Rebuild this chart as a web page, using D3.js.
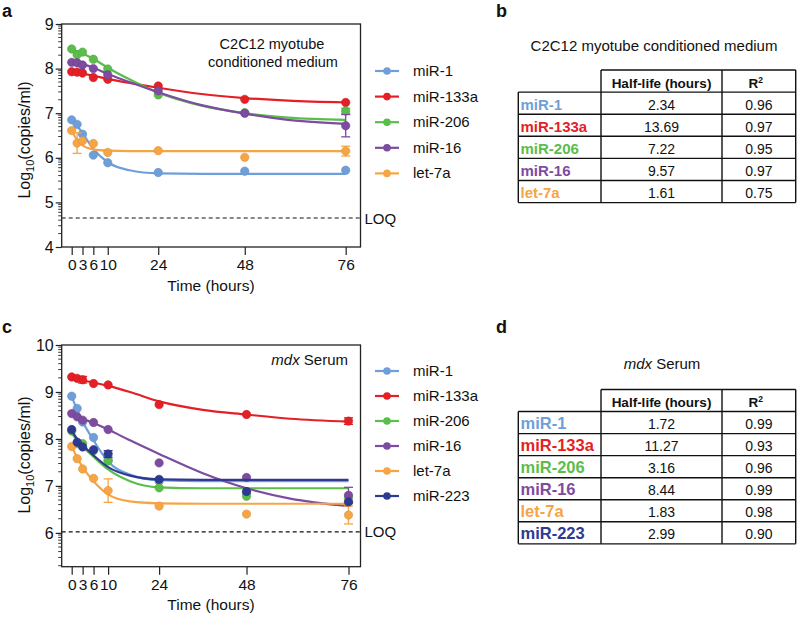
<!DOCTYPE html>
<html><head><meta charset="utf-8">
<script src="https://cdn.jsdelivr.net/npm/d3@7"></script>
<style>body{margin:0;background:#fff} text{font-family:"Liberation Sans",Arial,sans-serif;fill:#111}</style>
</head><body><svg id="c" width="800" height="617"></svg>
<script>
// ---------- shared ----------
const times = [0, 1.5, 3, 6, 10, 24, 48, 76];
const fitTimes = [0, 1.5, 3, 6, 10, 16, 24, 36, 48, 60, 76];
const xTickValues = [0, 3, 6, 10, 24, 48, 76];
const colors = {"miR-1":"#6f9fd8","miR-133a":"#e41f26","miR-206":"#5bbd4a","miR-16":"#7d4b9f","let-7a":"#f6a545","miR-223":"#2e3a92"};

// ---------- panel a: C2C12 myotube conditioned medium ----------
const seriesA = ["miR-1","miR-133a","miR-206","miR-16","let-7a"];
const aMir1    = [6.85, 6.75, 6.53, 6.06, 5.89, 5.67, 5.70, 5.72];
const aMir133a = [7.93, 7.92, 7.90, 7.80, 7.76, 7.61, 7.31, 7.24];
const aMir206  = [8.44, 8.31, 8.37, 8.21, 7.99, 7.41, 7.01, 7.05];
const aMir16   = [8.14, 8.13, 8.08, 8.00, 7.86, 7.50, 7.00, 6.72];
const aLet7a   = [6.61, 6.33, 6.38, 6.32, 6.12, 6.16, 6.01, 6.15];
const aErrMir1    = [null,null,null,null,null,null,null,null];
const aErrMir133a = [null,null,null,null,null,null,null,null];
const aErrMir206  = [null,null,null,null,null,null,null,0.06];
const aErrMir16   = [null,null,null,null,null,null,null,0.25];
const aErrLet7a   = [null,0.23,null,null,null,null,null,0.11];
const aFitMir1    = [6.85, 6.72, 6.55, 6.20, 5.90, 5.72, 5.65, 5.64, 5.64, 5.64, 5.64];
const aFitMir133a = [7.93, 7.91, 7.89, 7.84, 7.77, 7.68, 7.57, 7.43, 7.34, 7.28, 7.24];
const aFitMir206  = [8.42, 8.39, 8.34, 8.22, 8.02, 7.76, 7.46, 7.17, 7.00, 6.90, 6.85];
const aFitMir16   = [8.15, 8.13, 8.10, 8.02, 7.88, 7.70, 7.47, 7.18, 6.99, 6.85, 6.76];
const aFitLet7a   = [6.62, 6.40, 6.28, 6.19, 6.16, 6.15, 6.15, 6.15, 6.15, 6.15, 6.15];
const aLOQ = 4.65;
const aYTicks = [4, 5, 6, 7, 8, 9];

// ---------- panel c: mdx serum ----------
const seriesC = ["miR-1","miR-133a","miR-206","miR-16","let-7a","miR-223"];
const cMir1    = [8.91, 8.65, 8.36, 8.03, 7.55, 7.10, 6.85, 6.65];
const cMir133a = [9.32, 9.29, 9.26, 9.18, 9.15, 8.73, 8.52, 8.38];
const cMir206  = [8.17, 7.90, 7.90, 7.75, 7.53, 6.96, 6.78, 6.75];
const cMir16   = [8.54, 8.47, 8.40, 8.35, 8.20, 7.49, 7.18, 6.80];
const cLet7a   = [7.84, 7.58, 7.36, 7.16, 6.90, 6.57, 6.40, 6.38];
const cMir223  = [8.20, 7.93, 7.83, 7.77, 7.68, 7.14, 6.88, 6.66];
const cErrMir1    = [null,null,null,null,null,null,null,null];
const cErrMir133a = [null,null,0.07,null,null,null,null,0.07];
const cErrMir206  = [null,null,null,null,null,null,null,null];
const cErrMir16   = [null,null,null,null,null,null,null,0.17];
const cErrLet7a   = [null,null,null,null,0.25,null,null,0.19];
const cErrMir223  = [null,null,null,null,0.07,null,null,null];
const cFitMir1    = [8.90, 8.62, 8.37, 7.97, 7.52, 7.24, 7.12, 7.10, 7.10, 7.10, 7.10];
const cFitMir133a = [9.30, 9.28, 9.25, 9.20, 9.13, 9.00, 8.80, 8.62, 8.52, 8.43, 8.37];
const cFitMir206  = [8.12, 7.97, 7.84, 7.62, 7.35, 7.10, 6.97, 6.95, 6.95, 6.95, 6.95];
const cFitMir16   = [8.52, 8.48, 8.43, 8.34, 8.20, 7.97, 7.68, 7.27, 6.95, 6.73, 6.57];
const cFitLet7a   = [7.84, 7.60, 7.40, 7.10, 6.82, 6.67, 6.63, 6.62, 6.62, 6.62, 6.62];
const cFitMir223  = [8.17, 8.00, 7.87, 7.65, 7.40, 7.22, 7.14, 7.13, 7.13, 7.13, 7.13];
const cLOQ = 6.02;
const cYTicks = [6, 7, 8, 9, 10];

// ---------- tables ----------
const tableBTitle = "C2C12 myotube conditioned medium";
const tableBNames = ["miR-1","miR-133a","miR-206","miR-16","let-7a"];
const tableBHalfLife = ["2.34","13.69","7.22","9.57","1.61"];
const tableBR2 = ["0.96","0.97","0.95","0.97","0.75"];
const tableDNames = ["miR-1","miR-133a","miR-206","miR-16","let-7a","miR-223"];
const tableDHalfLife = ["1.72","11.27","3.16","8.44","1.83","2.99"];
const tableDR2 = ["0.99","0.93","0.96","0.99","0.98","0.90"];

const svg = d3.select("#c");

function panel(cfg) {
  const x = d3.scaleLinear().domain(cfg.xDomain).range([cfg.left, cfg.right]);
  const y = d3.scaleLinear().domain(cfg.yDomain).range([cfg.bottom, cfg.top]);
  const g = svg.append("g");
  const minors = [];
  for (let n = Math.floor(cfg.yDomain[0]); n < cfg.yDomain[1]; n++) {
    for (let k = 2; k <= 9; k++) {
      const v = n + Math.log10(k);
      if (v > cfg.yDomain[0] && v < cfg.yDomain[1]) minors.push(v);
    }
  }
  g.selectAll("line.minor").data(minors).join("line")
    .attr("x1", cfg.left - 3.5).attr("x2", cfg.left)
    .attr("y1", d => y(d)).attr("y2", d => y(d))
    .attr("stroke", "#222").attr("stroke-width", 0.9);
  const ya = g.append("g").attr("transform", `translate(${cfg.left},0)`)
    .call(d3.axisLeft(y).tickValues(cfg.yTicks).tickSize(6).tickPadding(2).tickFormat(d3.format("d")));
  ya.select(".domain").remove();
  ya.selectAll("line").attr("stroke", "#222").attr("stroke-width", 1.2);
  ya.selectAll("text").attr("font-size", 16).attr("font-family", "Liberation Sans, Arial, sans-serif").attr("fill", "#111");
  const xa = g.append("g").attr("transform", `translate(0,${cfg.bottom})`)
    .call(d3.axisBottom(x).tickValues(xTickValues).tickSize(8).tickPadding(4).tickFormat(d3.format("d")));
  xa.select(".domain").remove();
  xa.selectAll("line").attr("stroke", "#222").attr("stroke-width", 1.2);
  xa.selectAll("text").attr("font-size", 15.5).attr("font-family", "Liberation Sans, Arial, sans-serif").attr("fill", "#111");
  g.append("rect").attr("x", cfg.left).attr("y", cfg.top)
    .attr("width", cfg.right2 - cfg.left).attr("height", cfg.bottom - cfg.top)
    .attr("fill", "none").attr("stroke", "#222").attr("stroke-width", 1.3);
  g.append("line").attr("x1", cfg.left).attr("x2", cfg.right2)
    .attr("y1", y(cfg.loq)).attr("y2", y(cfg.loq))
    .attr("stroke", "#111").attr("stroke-width", 1.2).attr("stroke-dasharray", "4,3");
  g.append("text").attr("x", cfg.right2 + 4).attr("y", y(cfg.loq) + 5.5)
    .attr("font-size", 15).text("LOQ");
  const yl = g.append("text").attr("transform", `translate(${cfg.yLabelX},${cfg.yLabelY}) rotate(-90)`)
    .attr("text-anchor", "middle").attr("font-size", 16);
  yl.append("tspan").text("Log");
  yl.append("tspan").attr("font-size", 11).attr("dy", 4).text("10");
  yl.append("tspan").attr("dy", -4).text("(copies/ml)");
  g.append("text").attr("x", cfg.xLabelX).attr("y", cfg.xLabelY).attr("text-anchor", "middle")
    .attr("font-size", 15.5).text("Time (hours)");
  const line = d3.line().x(d => x(d[0])).y(d => y(d[1])).curve(d3.curveMonotoneX);
  cfg.series.forEach(s => {
    const col = colors[s.name];
    g.append("path").datum(fitTimes.map((t, i) => [t, s.fit[i]]))
      .attr("d", line).attr("fill", "none").attr("stroke", col).attr("stroke-width", 2.2);
    const pts = times.map((t, i) => ({t, v: s.values[i], e: s.err[i]}));
    const eb = g.selectAll(null).data(pts.filter(p => p.e != null)).join("g");
    eb.append("line").attr("x1", p => x(p.t)).attr("x2", p => x(p.t))
      .attr("y1", p => y(p.v - p.e)).attr("y2", p => y(p.v + p.e))
      .attr("stroke", col).attr("stroke-width", 1.3);
    [-1, 1].forEach(sg => eb.append("line")
      .attr("x1", p => x(p.t) - 4.5).attr("x2", p => x(p.t) + 4.5)
      .attr("y1", p => y(p.v + sg * p.e)).attr("y2", p => y(p.v + sg * p.e))
      .attr("stroke", col).attr("stroke-width", 1.3));
    g.selectAll(null).data(pts).join("circle")
      .attr("cx", p => x(p.t)).attr("cy", p => y(p.v)).attr("r", 4.2)
      .attr("fill", col).attr("stroke", d3.color(col).darker(0.3)).attr("stroke-width", 0.6);
  });
  cfg.series.forEach((s, i) => {
    const ly = cfg.legendY + i * cfg.legendStep;
    const col = colors[s.name];
    g.append("line").attr("x1", 375).attr("x2", 399).attr("y1", ly).attr("y2", ly)
      .attr("stroke", col).attr("stroke-width", 2.2);
    g.append("circle").attr("cx", 387).attr("cy", ly).attr("r", 3.8).attr("fill", col);
    g.append("text").attr("x", 413).attr("y", ly + 5).attr("font-size", 15).text(s.name);
  });
}

const pxPerHrA = (345.7 - 71.7) / 76, pxPerHrC = (348.5 - 71.7) / 76;
const mk = (names, vals, errs, fits) => names.map((n, i) => ({name: n, values: vals[i], err: errs[i], fit: fits[i]}));
panel({
  xDomain: [-(71.7 - 61.7) / pxPerHrA, 76], left: 61.7, right: 345.7, right2: 360.5, top: 24, bottom: 247,
  yDomain: [4, 9], yTicks: aYTicks, loq: aLOQ,
  yLabelX: 30, yLabelY: 140, xLabelX: 211, xLabelY: 291,
  legendY: 71, legendStep: 25.6,
  series: mk(seriesA, [aMir1, aMir133a, aMir206, aMir16, aLet7a],
    [aErrMir1, aErrMir133a, aErrMir206, aErrMir16, aErrLet7a],
    [aFitMir1, aFitMir133a, aFitMir206, aFitMir16, aFitLet7a])
});
panel({
  xDomain: [-(71.7 - 61.7) / pxPerHrC, 76], left: 61.7, right: 348.5, right2: 360.5, top: 345, bottom: 566.7,
  yDomain: [5.28, 10], yTicks: cYTicks, loq: cLOQ,
  yLabelX: 30, yLabelY: 455, xLabelX: 211, xLabelY: 610,
  legendY: 371, legendStep: 25,
  series: mk(seriesC, [cMir1, cMir133a, cMir206, cMir16, cLet7a, cMir223],
    [cErrMir1, cErrMir133a, cErrMir206, cErrMir16, cErrLet7a, cErrMir223],
    [cFitMir1, cFitMir133a, cFitMir206, cFitMir16, cFitLet7a, cFitMir223])
});

svg.append("text").attr("x", 272).attr("y", 49).attr("text-anchor", "middle").attr("font-size", 14.5).text("C2C12 myotube");
svg.append("text").attr("x", 273).attr("y", 66.5).attr("text-anchor", "middle").attr("font-size", 14.5).text("conditioned medium");
const mdx = svg.append("text").attr("x", 348).attr("y", 365).attr("text-anchor", "end").attr("font-size", 15);
mdx.append("tspan").attr("font-style", "italic").text("mdx");
mdx.append("tspan").text(" Serum");

[["a", 2, 17], ["b", 496, 17], ["c", 2, 333], ["d", 496, 333]].forEach(([t, px, py]) =>
  svg.append("text").attr("x", px).attr("y", py).attr("font-size", 18).attr("font-weight", "bold").text(t));

function table(cfg) {
  const g = svg.append("g");
  const cols = [518.3, 601, 722, 795.7];
  const n = cfg.names.length;
  const rowTop = i => cfg.top + cfg.rowH * (i + 1);
  const bottom = rowTop(n);
  const L = (x1, y1, x2, y2) => g.append("line").attr("x1", x1).attr("y1", y1).attr("x2", x2).attr("y2", y2)
    .attr("stroke", "#111").attr("stroke-width", 1.4);
  L(cols[1], cfg.top, cols[3], cfg.top);
  for (let i = 0; i <= n; i++) L(cols[0], rowTop(i), cols[3], rowTop(i));
  L(cols[0], rowTop(0), cols[0], bottom);
  L(cols[1], cfg.top, cols[1], bottom);
  L(cols[2], cfg.top, cols[2], bottom);
  L(cols[3], cfg.top, cols[3], bottom);
  g.append("text").attr("x", cfg.titleX).attr("y", cfg.titleY).attr("text-anchor", "middle").attr("font-size", 15)
    .call(t => cfg.title(t));
  g.append("text").attr("x", (cols[1] + cols[2]) / 2).attr("y", cfg.top + 17.5).attr("text-anchor", "middle")
    .attr("font-size", 13.5).attr("font-weight", "bold").text("Half-life (hours)");
  const r2 = g.append("text").attr("x", (cols[2] + cols[3]) / 2 - 3).attr("y", cfg.top + 17.5).attr("text-anchor", "middle")
    .attr("font-size", 13.5).attr("font-weight", "bold");
  r2.append("tspan").text("R");
  r2.append("tspan").attr("font-size", 8.5).attr("dy", -5).text("2");
  cfg.names.forEach((nm, i) => {
    const yb = rowTop(i) + 17.5;
    g.append("text").attr("x", 520.5).attr("y", yb).attr("font-size", cfg.nameSize).attr("font-weight", "bold")
      .style("fill", colors[nm]).text(nm);
    g.append("text").attr("x", (cols[1] + cols[2]) / 2).attr("y", yb).attr("text-anchor", "middle").attr("font-size", 14).text(cfg.half[i]);
    g.append("text").attr("x", (cols[2] + cols[3]) / 2).attr("y", yb).attr("text-anchor", "middle").attr("font-size", 14).text(cfg.r2[i]);
  });
}
table({top: 70, rowH: 22.1, names: tableBNames, half: tableBHalfLife, r2: tableBR2, nameSize: 15,
  titleX: 654, titleY: 50.5, title: t => t.text(tableBTitle)});
table({top: 389.5, rowH: 22.05, names: tableDNames, half: tableDHalfLife, r2: tableDR2, nameSize: 16.5,
  titleX: 662, titleY: 368.5, title: t => { t.append("tspan").attr("font-style", "italic").text("mdx"); t.append("tspan").text(" Serum"); }});
</script>
</body></html>
